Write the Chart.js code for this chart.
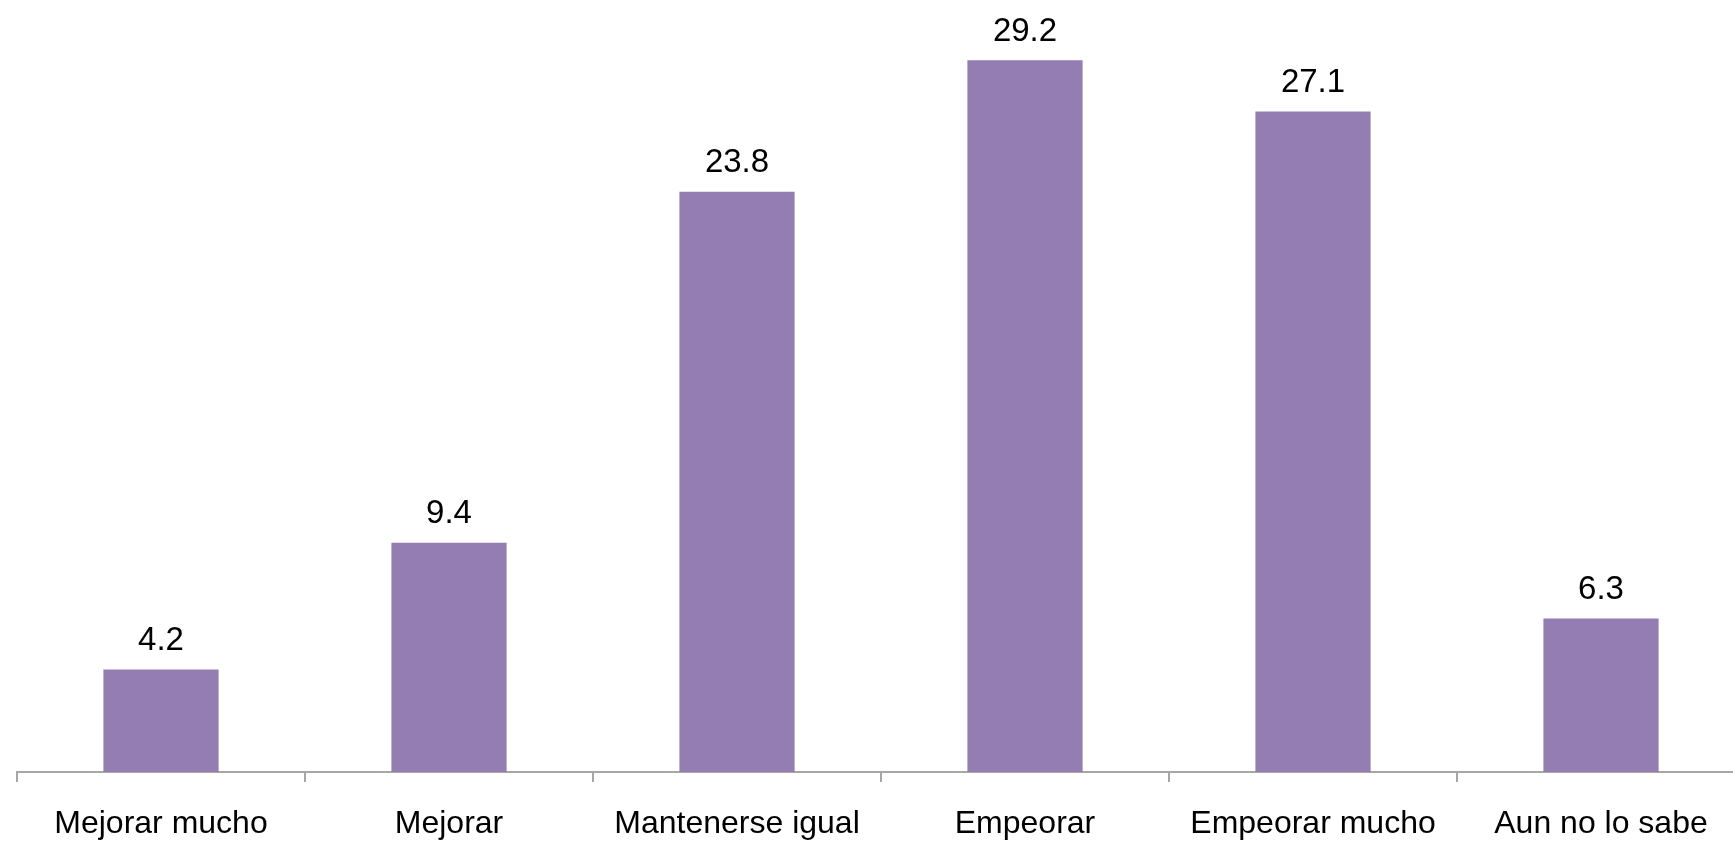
<!DOCTYPE html>
<html>
<head>
<meta charset="utf-8">
<script src="https://cdn.jsdelivr.net/npm/chart.js@4/dist/chart.umd.min.js"></script>
<style>
  html, body { margin: 0; padding: 0; background: #fff; overflow: hidden; }
  #wrap { width: 1733px; height: 844px; position: relative; overflow: hidden; }
  #c { position: absolute; left: 0; top: 0; }
</style>
</head>
<body>
<div id="wrap"><canvas id="c" width="1745" height="844"></canvas></div>
<script>
const categories = ["Mejorar mucho", "Mejorar", "Mantenerse igual", "Empeorar", "Empeorar mucho", "Aun no lo sabe"];
const values = [4.2, 9.4, 23.8, 29.2, 27.1, 6.3];

const FONT = '"Liberation Sans", Arial, Helvetica, sans-serif';

const valueLabels = {
  id: 'valueLabels',
  afterDatasetsDraw(chart) {
    const ctx = chart.ctx;
    const meta = chart.getDatasetMeta(0);
    ctx.save();
    ctx.font = '33px ' + FONT;
    ctx.fillStyle = '#000';
    ctx.textAlign = 'center';
    ctx.textBaseline = 'alphabetic';
    meta.data.forEach((bar, i) => {
      ctx.fillText(values[i].toFixed(1), bar.x, bar.y - 19.5);
    });
    ctx.restore();
  }
};

new Chart(document.getElementById('c'), {
  type: 'bar',
  data: {
    labels: categories,
    datasets: [{
      data: values,
      backgroundColor: 'rgb(148,125,178)',
      borderWidth: 0,
      categoryPercentage: 1.0,
      barPercentage: 0.4
    }]
  },
  options: {
    responsive: false,
    animation: false,
    devicePixelRatio: 1,
    layout: { padding: { left: 17, right: 0, top: 0, bottom: 2 } },
    plugins: { legend: { display: false }, tooltip: { enabled: false } },
    scales: {
      x: {
        offset: true,
        afterFit(scale) { scale.height = 70; },
        grid: {
          display: true,
          offset: true,
          drawOnChartArea: false,
          drawTicks: true,
          tickLength: 10,
          color: '#A6A6A6',
          lineWidth: 2
        },
        border: { display: true, color: '#A6A6A6', width: 2 },
        ticks: {
          color: '#000',
          padding: 23,
          maxRotation: 0,
          autoSkip: false,
          font: { family: FONT, size: 32 }
        }
      },
      y: {
        display: false,
        min: 0,
        max: 31.67
      }
    }
  },
  plugins: [valueLabels]
});
</script>
</body>
</html>
